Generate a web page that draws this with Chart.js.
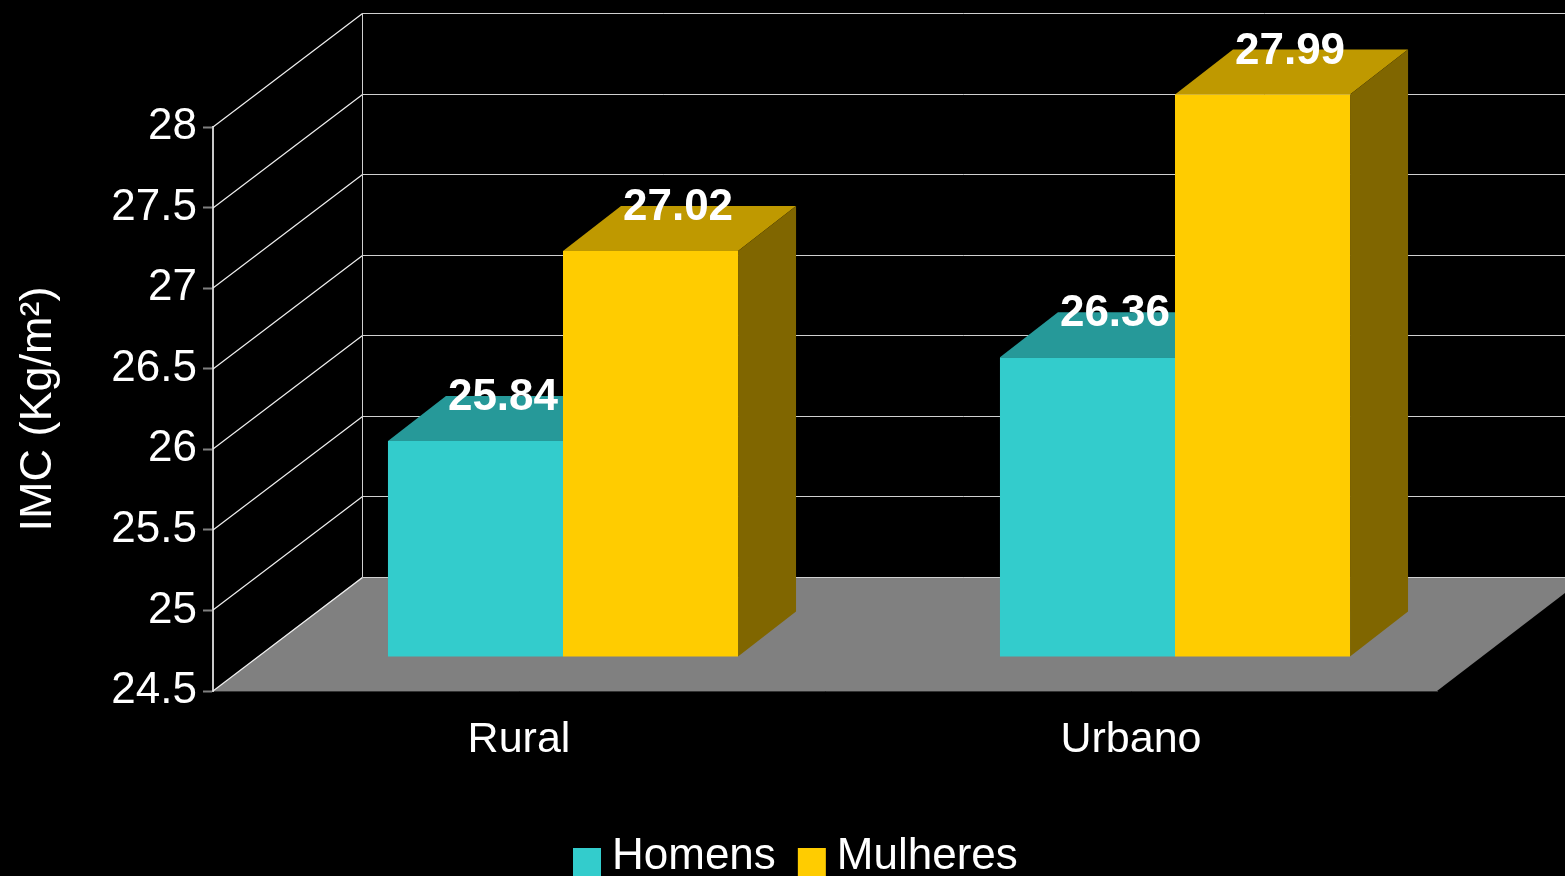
<!DOCTYPE html>
<html>
<head>
<meta charset="utf-8">
<title>IMC</title>
<style>
  html, body { margin: 0; padding: 0; background: #000; overflow: hidden; }
  canvas { display: block; }
</style>
<script src="https://cdn.jsdelivr.net/npm/chart.js@4/dist/chart.umd.min.js"></script>
</head>
<body>
<canvas id="chart" width="1565" height="876"></canvas>
<script>
// ===== Data =====
const categories = ["Rural", "Urbano"];
const homens = [25.84, 26.36];
const mulheres = [27.02, 27.99];
const yMin = 24.5;
const yMax = 28;
const yStep = 0.5;

// ===== 3D look =====
const FONT = "'Liberation Sans', Arial, sans-serif";
const WALL = { dx: 149, dy: 114 };   // axis plane -> back wall
const FRONT = { dx: 44, dy: 34 };    // axis plane -> front of the bars
const DEPTH = { dx: 58, dy: 45 };    // bar extrusion
const shades = [
  { top: "#269999", side: "#1a6666" },
  { top: "#bf9900", side: "#806600" }
];

function poly(ctx, color, pts) {
  ctx.fillStyle = color;
  ctx.beginPath();
  pts.forEach((p, i) => (i ? ctx.lineTo(p[0], p[1]) : ctx.moveTo(p[0], p[1])));
  ctx.closePath();
  ctx.fill();
}

const box3d = {
  id: "box3d",
  afterLayout(chart) {
    // legend sits lower and further right than the default placement
    chart.legend.left = 551;
    chart.legend.top = 813;
  },
  beforeDatasetsDraw(chart) {
    const { ctx, chartArea: a, scales: { y } } = chart;
    const w = chart.width;
    const bottom = y.getPixelForValue(yMin);

    poly(ctx, "#808080", [
      [a.left, bottom],
      [a.right, bottom],
      [a.right + WALL.dx, bottom - WALL.dy],
      [a.left + WALL.dx, bottom - WALL.dy]
    ]);

    ctx.save();
    y.ticks.forEach(t => {
      const py = Math.round(y.getPixelForValue(t.value));
      ctx.strokeStyle = "#f0f0f0";
      ctx.lineWidth = 1.2;
      ctx.beginPath();
      ctx.moveTo(a.left, py);
      ctx.lineTo(a.left + WALL.dx + 0.5, py - WALL.dy + 0.5);
      ctx.stroke();
      ctx.strokeStyle = "#d0d0d0";
      ctx.lineWidth = 1;
      ctx.beginPath();
      ctx.moveTo(a.left + WALL.dx + 0.5, py - WALL.dy + 0.5);
      ctx.lineTo(w, py - WALL.dy + 0.5);
      ctx.stroke();
    });
    ctx.beginPath();
    ctx.moveTo(a.left + WALL.dx + 0.5, y.getPixelForValue(yMax) - WALL.dy);
    ctx.lineTo(a.left + WALL.dx + 0.5, bottom - WALL.dy);
    ctx.stroke();
    ctx.restore();
  },
  beforeDatasetDraw(chart) {
    chart.ctx.save();
    chart.ctx.translate(FRONT.dx, -FRONT.dy);
  },
  afterDatasetDraw(chart, args) {
    const ctx = chart.ctx;
    const s = shades[args.index];
    args.meta.data.forEach(bar => {
      const x0 = bar.x - bar.width / 2;
      const x1 = bar.x + bar.width / 2;
      if (args.index === 0) {
        // the next bar hides whatever is right of this one
        poly(ctx, s.top, [[x0, bar.y], [x1, bar.y], [x1, bar.y - DEPTH.dy], [x0 + DEPTH.dx, bar.y - DEPTH.dy]]);
      } else {
        poly(ctx, s.top, [[x0, bar.y], [x1, bar.y], [x1 + DEPTH.dx, bar.y - DEPTH.dy], [x0 + DEPTH.dx, bar.y - DEPTH.dy]]);
        poly(ctx, s.side, [[x1, bar.y], [x1 + DEPTH.dx, bar.y - DEPTH.dy], [x1 + DEPTH.dx, bar.base - DEPTH.dy], [x1, bar.base]]);
      }
    });
    ctx.restore();
  },
  afterDatasetsDraw(chart) {
    const ctx = chart.ctx;
    ctx.save();
    ctx.font = "bold 44px " + FONT;
    ctx.fillStyle = "#fff";
    ctx.textAlign = "center";
    ctx.textBaseline = "middle";
    chart.data.datasets.forEach((ds, i) => {
      chart.getDatasetMeta(i).data.forEach((bar, j) => {
        ctx.fillText(ds.data[j].toFixed(2), bar.x + FRONT.dx + 27.5, bar.y - FRONT.dy - 43);
      });
    });
    ctx.restore();
  },
  afterDraw(chart) {
    // legend squares hang lower than the text, so they are painted here
    const ctx = chart.ctx;
    chart.legend.legendHitBoxes.forEach((b, i) => {
      ctx.fillStyle = chart.data.datasets[i].backgroundColor;
      ctx.fillRect(b.left, 848, 28, 28);
    });
  }
};

// ===== Chart =====
new Chart(document.getElementById("chart"), {
  type: "bar",
  plugins: [box3d],
  data: {
    labels: categories,
    datasets: [
      { label: "Homens", data: homens, base: yMin, backgroundColor: "#33cccc", clip: false },
      { label: "Mulheres", data: mulheres, base: yMin, backgroundColor: "#ffcc00", clip: false }
    ]
  },
  options: {
    responsive: false,
    animation: false,
    categoryPercentage: 0.572,
    barPercentage: 1,
    layout: { padding: { top: 127, right: 128, left: 0, bottom: 0 } },
    scales: {
      x: {
        grid: { display: false },
        border: { color: "#333" },
        ticks: { color: "#fff", font: { family: FONT, size: 43 }, padding: 15, maxRotation: 0 },
        afterFit(scale) { scale.height = 109; }
      },
      y: {
        min: yMin,
        max: yMax,
        grid: { drawOnChartArea: false, tickLength: 10, tickWidth: 2, tickColor: "#808080" },
        border: { color: "#c8c8c8", width: 2 },
        ticks: {
          stepSize: yStep,
          color: "#fff",
          padding: 6,
          font: { family: FONT, size: 44 },
          callback: v => String(v)
        },
        title: {
          display: true,
          text: "IMC (Kg/m²)",
          color: "#fff",
          font: { family: FONT, size: 45 },
          padding: { top: 12, bottom: 0 }
        },
        afterFit(scale) { scale.width = 213; }
      }
    },
    plugins: {
      tooltip: { enabled: false },
      legend: {
        position: "bottom",
        align: "start",
        labels: {
          color: "#fff",
          font: { family: FONT, size: 44 },
          boxWidth: 17,
          boxHeight: 28,
          padding: 22,
          generateLabels(chart) {
            return Chart.defaults.plugins.legend.labels.generateLabels(chart).map(l => ({
              ...l, fillStyle: "transparent", strokeStyle: "transparent", lineWidth: 0
            }));
          }
        }
      }
    }
  }
});
</script>
</body>
</html>
